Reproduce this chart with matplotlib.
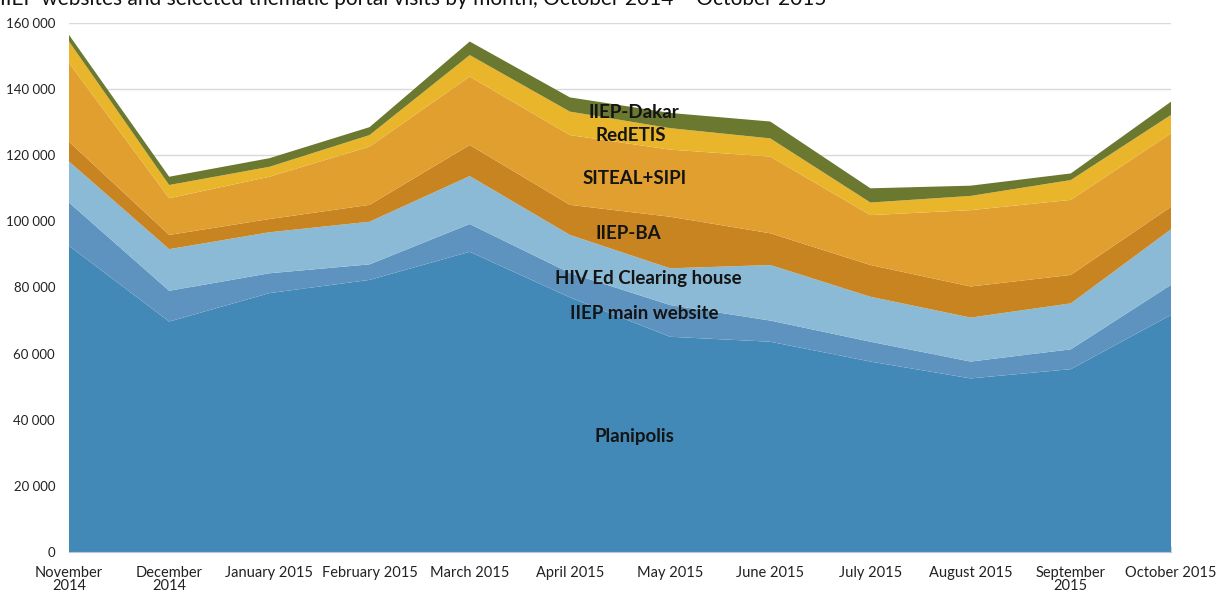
import matplotlib
matplotlib.use("Agg")
import matplotlib.pyplot as plt
import numpy as np
from matplotlib.ticker import FuncFormatter, MultipleLocator

months = ["November\n2014", "December\n2014", "January 2015", "February 2015",
          "March 2015", "April 2015", "May 2015", "June 2015", "July 2015",
          "August 2015", "September\n2015", "October 2015"]

planipolis = [92.6, 69.7, 78.3, 82.3, 90.8, 77.0, 65.1, 63.6, 57.6, 52.5, 55.3, 71.7]
main_site  = [13.1,  9.3,  6.0,  4.7,  8.4,  7.4,  9.6,  6.4,  6.0,  5.1,  6.0,  9.1]
hiv_ed     = [12.4, 12.6, 12.4, 12.9, 14.5, 11.5, 11.1, 16.8, 13.6, 13.3, 13.9, 16.8]
iiep_ba    = [ 6.0,  4.3,  4.0,  5.1,  9.4,  9.1, 15.6,  9.6,  9.6,  9.4,  8.6,  6.8]
siteal     = [23.8, 11.1, 12.8, 17.6, 20.7, 21.1, 20.3, 23.2, 15.1, 23.1, 22.7, 22.2]
redetis    = [ 6.5,  4.0,  3.0,  3.5,  6.5,  7.1,  6.5,  5.5,  3.8,  4.3,  6.0,  5.6]
dakar      = [ 2.0,  2.5,  2.6,  2.4,  4.1,  4.3,  4.6,  5.1,  4.3,  3.1,  2.0,  4.0]

series_names = ["Planipolis", "IIEP main website", "HIV Ed Clearing house",
                "IIEP-BA", "SITEAL+SIPI", "RedETIS", "IIEP-Dakar"]
series = [planipolis, main_site, hiv_ed, iiep_ba, siteal, redetis, dakar]
colors = ["#4389b7", "#5f93bf", "#8bbad6", "#c98422", "#e19f30", "#e8b52b", "#6a7830"]

title = "IIEP websites and selected thematic portal visits by month, October 2014 \u2013 October 2015"

font = "Lato"
fig = plt.figure(figsize=(12.21, 5.94), dpi=100)
ax = fig.add_axes([69/1221, 1-552/594, (1171-69)/1221, (552-23)/594])

x = np.arange(len(months))
vals = np.array(series) * 1000
ax.stackplot(x, vals, colors=colors, linewidth=0, zorder=2)

ax.set_xlim(0, len(months)-1)
ax.set_ylim(0, 160000)
ax.yaxis.set_major_locator(MultipleLocator(20000))
ax.yaxis.set_major_formatter(FuncFormatter(lambda v, p: f"{int(v):,}".replace(",", " ")))
ax.grid(axis="y", color="#d9d9d9", linewidth=1, zorder=0)
ax.set_axisbelow(True)
for s in ["top", "right", "left"]:
    ax.spines[s].set_visible(False)
ax.spines["bottom"].set_color("#b8c8d8")
ax.spines["bottom"].set_zorder(3)

ax.set_xticks(x)
ax.set_xticklabels(months, fontsize=10.5, family=font, color="#222222", linespacing=0.95)
ax.xaxis.set_minor_locator(MultipleLocator(0.5))
ax.tick_params(axis="x", which="both", direction="in", length=4, color="#c8d4e0", pad=10)
ax.tick_params(axis="y", length=0, labelsize=9.5, pad=10, labelcolor="#222222")
for t in ax.get_yticklabels():
    t.set_family(font)

label_pos = {
    "Planipolis": (5.64, 34800),
    "IIEP main website": (5.74, 72000),
    "HIV Ed Clearing house": (5.78, 82600),
    "IIEP-BA": (5.58, 96200),
    "SITEAL+SIPI": (5.65, 113100),
    "RedETIS": (5.61, 126100),
    "IIEP-Dakar": (5.64, 132800),
}
for name in series_names:
    px, py = label_pos[name]
    ax.text(px, py, name, ha="center", va="center", fontsize=13.5,
            fontweight="bold", family=font, color="#141414", zorder=5)

fig.text(0.0, 1 - 5/594, title, ha="left", va="baseline", fontsize=15, family=font,
         color="#111111")

fig.savefig("out.png", dpi=100)
